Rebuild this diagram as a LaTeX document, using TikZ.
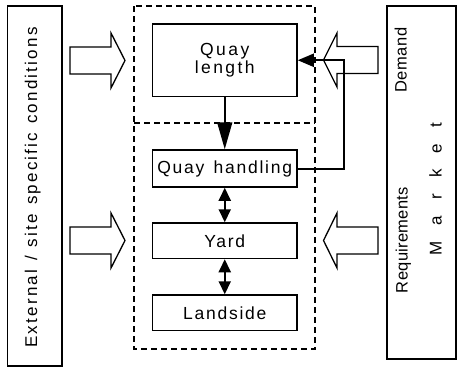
\documentclass[tikz,border=0pt]{standalone}
\usepackage{fontspec}
\setmainfont{Liberation Sans}
\newfontfamily\boxfont[LetterSpace=10,WordSpace=1.4]{Liberation Sans}
\newfontfamily\qlfont[LetterSpace=14]{Liberation Sans}
\newfontfamily\sidefont[LetterSpace=13,WordSpace=1.3]{Liberation Sans}
\newfontfamily\demfont[LetterSpace=4]{Liberation Sans}
\newfontfamily\reqfont[LetterSpace=2]{Liberation Sans}
\newfontfamily\mktfont[LetterSpace=28,WordSpace=1.7]{Liberation Sans}
\usetikzlibrary{arrows.meta}
\tikzset{
  stagebox/.style={draw, line width=1.5bp, rectangle, inner sep=0pt,
    minimum width=144.5bp, align=center,
    font=\boxfont\fontsize{17.5bp}{18.5bp}\selectfont},
  sidebox/.style={draw, line width=1.3bp, rectangle, inner sep=0pt},
  sidetext/.style={rotate=90, anchor=base, inner sep=0pt},
  zone/.style={line width=1.4bp, dash pattern=on 6bp off 4bp},
  flow/.style={line width=1.6bp, -{Triangle[length=27bp,width=15bp]}},
  feedback/.style={line width=2bp, line join=miter, -{Triangle[length=16bp,width=13bp]}},
  twoway/.style={line width=2bp,
    {Triangle[length=13bp,width=12bp]}-{Triangle[length=13bp,width=12bp]}},
  hollow/.style={draw, line width=1.3bp, fill=white, line join=miter}
}
\begin{document}
\begin{tikzpicture}[x=1bp, y=-1bp]
\useasboundingbox (0,0) rectangle (457,367);

% side panels
\node[sidebox, minimum width=54.5bp, minimum height=360bp] (ext) at (34.75,186) {};
\node[sidetext, font=\sidefont\fontsize{17bp}{18bp}\selectfont] (exttext) at (37,187.5) {External / site specific conditions};

\node[sidebox, minimum width=69bp, minimum height=353bp] (mkt) at (421.5,182.5) {};
\node[sidetext, font=\demfont\fontsize{16.5bp}{18bp}\selectfont] (dem) at (406.5,60) {Demand};
\node[sidetext, font=\reqfont\fontsize{16.5bp}{18bp}\selectfont] (req) at (407.5,240) {Requirements};
\node[sidetext, font=\mktfont\fontsize{17bp}{18bp}\selectfont] (mkttext) at (441.5,189) {M a r k e t};

% terminal zone, split into quay and hinterland parts
\draw[zone] (134,6) rectangle (315,349);
\draw[zone] (134,123) -- (315,123);

% influence arrows from outside
\draw[hollow] (70,47) -- (111,47) -- (111,33) -- (125,60.5) -- (111,88) -- (111,74) -- (70,74) -- cycle;
\draw[hollow] (70,227) -- (111,227) -- (111,213) -- (125,240.5) -- (111,268) -- (111,254) -- (70,254) -- cycle;
\draw[hollow] (378,46.5) -- (337,46.5) -- (337,33) -- (323.5,60) -- (337,87) -- (337,73.5) -- (378,73.5) -- cycle;
\draw[hollow] (378,227) -- (337,227) -- (337,213) -- (323.5,240.5) -- (337,268) -- (337,254) -- (378,254) -- cycle;

% terminal subsystems
\node[stagebox, minimum height=72.5bp, font=\qlfont\fontsize{17.5bp}{18.5bp}\selectfont] (qlen) at (224.75,60.25) {Quay\\length};
\node[stagebox, minimum height=37bp] (qhand) at (224.75,168.5) {Quay handling};
\node[stagebox, minimum height=35.5bp] (yard) at (224.75,240.75) {Yard};
\node[stagebox, minimum height=35.5bp] (land) at (224.75,312.75) {Landside};

% links between subsystems
\draw[flow] (qlen.south) -- (qhand.north);
\draw[twoway] (qhand.south) -- (yard.north);
\draw[twoway] (yard.south) -- (land.north);
\coordinate (loop) at (344,0);
\draw[feedback] (qhand.east) -- (qhand.east -| loop) -- (qlen.east -| loop) -- (qlen.east);
\end{tikzpicture}
\end{document}
